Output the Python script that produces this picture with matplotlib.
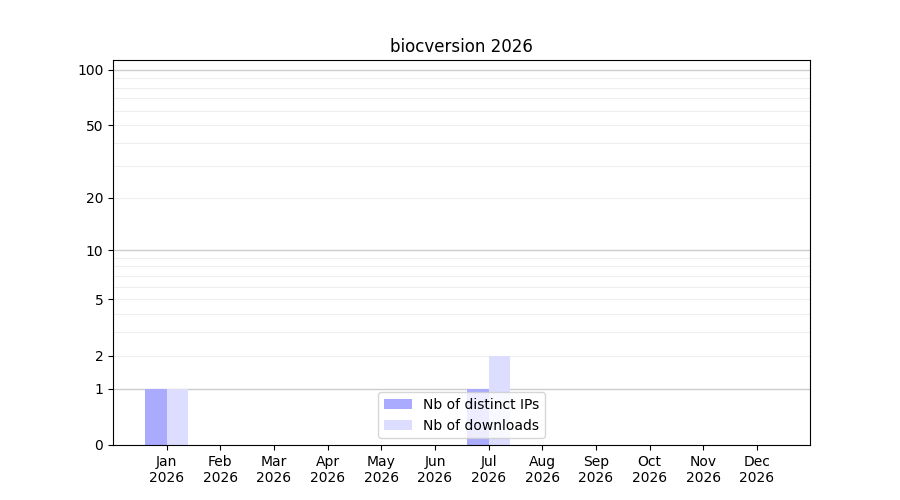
import numpy as np
import matplotlib
matplotlib.use("Agg")
import matplotlib.pyplot as plt
from matplotlib.ticker import FixedLocator, FixedFormatter

# monthly stats for biocversion, 2026
months = ["Jan", "Feb", "Mar", "Apr", "May", "Jun",
          "Jul", "Aug", "Sep", "Oct", "Nov", "Dec"]
year = 2026
nb_ips = [1, 0, 0, 0, 0, 0, 1, 0, 0, 0, 0, 0]
nb_downloads = [1, 0, 0, 0, 0, 0, 2, 0, 0, 0, 0, 0]

ytick_vals = [0, 1, 2, 5, 10, 20, 50, 100]
major_grid = [1, 10, 100]
minor_grid = [2, 3, 4, 5, 6, 7, 8, 9, 20, 30, 40, 50, 60, 70, 80, 90]

fig, ax = plt.subplots(figsize=(9, 5), dpi=100)
fig.subplots_adjust(left=0.1256, right=0.9, top=0.88, bottom=0.11)

ax.set_yscale("function", functions=(lambda y: np.log10(1 + np.clip(y, 0, None)),
                                     lambda y: 10 ** y - 1))

x = np.arange(1, 13)
w = 0.4
ax.bar(x - w / 2, nb_ips, width=w, color="#aaaaff", label="Nb of distinct IPs", zorder=2)
ax.bar(x + w / 2, nb_downloads, width=w, color="#ddddff", label="Nb of downloads", zorder=2)

for v in major_grid:
    ax.axhline(v, color="#cccccc", linewidth=1, zorder=1)
for v in minor_grid:
    ax.axhline(v, color="#eeeeee", linewidth=0.8, zorder=1)

ax.yaxis.set_major_locator(FixedLocator(ytick_vals))
ax.yaxis.set_major_formatter(FixedFormatter([str(v) for v in ytick_vals]))
ax.yaxis.set_minor_locator(FixedLocator([]))
ax.set_ylim(0, 113)

ax.set_xticks(x)
ax.set_xticklabels([f"{m}\n{year}" for m in months])
ax.set_xlim(0.0, 12.99)

ax.set_title(f"biocversion {year}")
ax.legend(loc="lower center")

fig.savefig("out.png", dpi=100)
